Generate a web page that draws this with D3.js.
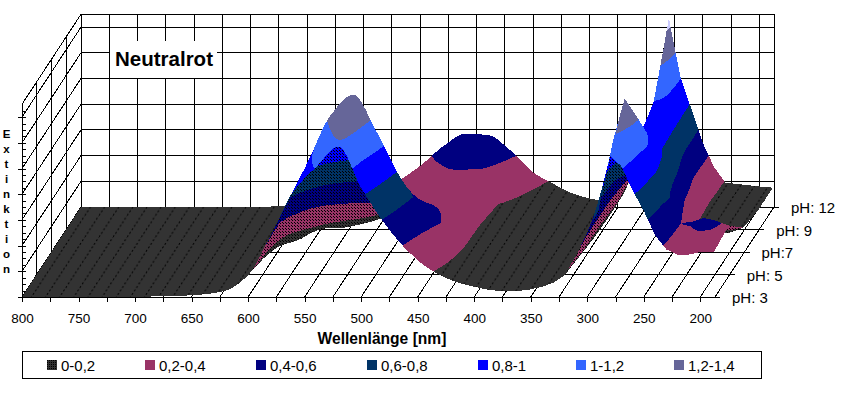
<!DOCTYPE html>
<html>
<head>
<meta charset="utf-8">
<script src="https://cdn.jsdelivr.net/npm/d3@7"></script>
<style>
  html, body { margin: 0; padding: 0; background: #fff; }
  svg { display: block; }
  text { font-family: "Liberation Sans", Arial, sans-serif; fill: #000; }
</style>
</head>
<body>
<svg id="chart" width="844" height="394"></svg>
<script>
// values
const wavelengths = [800, 720, 660, 640, 620, 600, 580, 560, 540, 520, 500, 480, 460, 440, 420, 400, 380, 360, 340, 330, 320, 310, 300, 290, 280, 270, 260, 250, 240, 230, 220, 210, 200, 188];
const phLabels = ["pH: 3", "pH: 5", "pH:7", "pH: 9", "pH: 12"];
const ph3 = [0, 0, 0.01, 0.02, 0.05, 0.17, 0.48, 0.82, 1.01, 1.17, 0.85, 0.58, 0.37, 0.22, 0.13, 0.08, 0.05, 0.05, 0.08, 0.11, 0.17, 0.32, 0.5, 0.68, 1.1, 1.02, 0.83, 0.67, 0.48, 0.37, 0.33, 0.33, 0.35, 0.35];
const ph5 = [0, 0, 0.01, 0.02, 0.03, 0.12, 0.52, 0.88, 1.24, 1.4, 1.12, 0.78, 0.52, 0.38, 0.18, 0.1, 0.07, 0.06, 0.06, 0.08, 0.14, 0.27, 0.62, 1.05, 1.37, 1.24, 1.0, 0.75, 0.6, 0.4, 0.41, 0.44, 0.42, 0.38];
const ph7 = [0, 0, 0.01, 0.02, 0.03, 0.05, 0.1, 0.22, 0.26, 0.3, 0.36, 0.39, 0.37, 0.33, 0.19, 0.12, 0.09, 0.05, 0.04, 0.06, 0.11, 0.3, 0.55, 0.6, 0.9, 0.88, 0.8, 0.68, 0.4, 0.19, 0.17, 0.15, 0.15, 0.19];
const ph9 = [0, 0, 0, 0, 0, 0, 0.01, 0.01, 0.04, 0.09, 0.17, 0.25, 0.3, 0.29, 0.21, 0.14, 0.08, 0.04, 0.03, 0.05, 0.1, 0.25, 0.45, 0.6, 1.0, 0.95, 0.78, 0.5, 0.28, 0.18, 0.17, 0.15, 0.15, 0.15];
const ph12 = [0, 0, 0, 0, 0.01, 0.01, 0.02, 0.05, 0.1, 0.2, 0.32, 0.47, 0.57, 0.56, 0.44, 0.27, 0.17, 0.09, 0.055, 0.06, 0.1, 0.3, 0.6, 0.9, 1.47, 1.02, 0.76, 0.5, 0.31, 0.19, 0.18, 0.17, 0.16, 0.15];
const surface = [ph3, ph5, ph7, ph9, ph12];

const bandBreaks = [0, 0.2, 0.4, 0.6, 0.8, 1, 1.2, 1.4, 1.7];
const bandColors = ["#333333", "#993366", "#000080", "#003366", "#0000ff", "#3366ff", "#666699", "#ccccff"];
const legendLabels = ["0-0,2", "0,2-0,4", "0,4-0,6", "0,6-0,8", "0,8-1", "1-1,2", "1,2-1,4"];
const legendX = [47, 145, 256, 367, 478, 576, 674];
const extTicks = [0, 0.2, 0.4, 0.6, 0.8, 1, 1.2, 1.4];
const yLetters = "Extinktion".split("");

const svg = d3.select("svg#chart");

// dark band has the dotted mesh texture of the original
const defs = svg.append("defs");
const darkFill = defs.append("pattern").attr("id", "darkFill")
  .attr("patternUnits", "userSpaceOnUse")
  .attr("width", 14.135).attr("height", 21.56);
darkFill.append("rect").attr("width", 14.135).attr("height", 21.56).attr("fill", "#333333");
darkFill.append("line")
  .attr("x1", 0).attr("y1", 21.56).attr("x2", 14.135).attr("y2", 0)
  .attr("stroke", "#000").attr("stroke-dasharray", "2 2.2");

const swatchFill = defs.append("pattern").attr("id", "swatchFill")
  .attr("patternUnits", "userSpaceOnUse").attr("width", 2).attr("height", 2);
swatchFill.append("rect").attr("width", 2).attr("height", 2).attr("fill", "#333333");
swatchFill.append("rect").attr("width", 1).attr("height", 1).attr("fill", "#000");

// underside of the surface: the mesh lines crowd together and read as dither
bandColors.forEach((c, i) => {
  const p = defs.append("pattern").attr("id", "under" + i)
    .attr("patternUnits", "userSpaceOnUse").attr("width", 3).attr("height", 3);
  p.append("rect").attr("width", 3).attr("height", 3).attr("fill", c);
  p.append("rect").attr("x", 0).attr("y", 0).attr("width", 1).attr("height", 1).attr("fill", "#000");
  p.append("rect").attr("x", 1).attr("y", 1).attr("width", 1).attr("height", 1).attr("fill", "#000");
});

// scales: wall + floor in an oblique projection
const waveEnd = 187;
const xScale = d3.scaleLinear().domain([800, waveEnd]).range([22, 715]);
const depthX = d3.scaleLinear().domain([0, 4]).range([0, 59]);
const depthY = d3.scaleLinear().domain([0, 4]).range([0, -90]);
const zScale = d3.scaleLinear().domain([0, 1.5]).range([297, 104.25]);

function project(w, d, z) {
  return [xScale(w) + depthX(d), zScale(z) + depthY(d)];
}

// ---- grid
const grid = svg.append("g").attr("stroke", "#000").attr("fill", "none").attr("shape-rendering", "crispEdges");
function gridLine(a, b) {
  grid.append("line").attr("x1", a[0]).attr("y1", a[1]).attr("x2", b[0]).attr("y2", b[1]);
}

const gridWaves = d3.range(800, waveEnd, -25);
gridWaves.concat([waveEnd]).forEach(w => {
  gridLine(project(w, 4, 0), project(w, 4, 1.5));
  if (w != waveEnd) gridLine(project(w, 0, 0), project(w, 4, 0));
});
extTicks.concat([1.5]).forEach(z => {
  gridLine(project(800, 4, z), project(waveEnd, 4, z));
  gridLine(project(800, 0, z), project(800, 4, z));
});
d3.range(0, 5).forEach(d => {
  gridLine(project(800, d, 0), project(800, d, 1.5));
  gridLine(project(800, d, 0), project(waveEnd, d, 0));
  // tick out to the pH label
  gridLine(project(waveEnd, d, 0), [project(waveEnd, d, 0)[0] + 5, project(waveEnd, d, 0)[1]]);
});
gridLine(project(waveEnd, 0, 0), project(waveEnd, 4, 0));

// ---- surface
function tangents(xs, ys) {
  const n = xs.length, m = [], t = [];
  for (let i = 0; i < n - 1; i++) m.push((ys[i + 1] - ys[i]) / (xs[i + 1] - xs[i]));
  t.push(m[0]);
  for (let i = 1; i < n - 1; i++) {
    t.push(m[i - 1] * m[i] <= 0 ? 0 : 2 * m[i - 1] * m[i] / (m[i - 1] + m[i]));
  }
  t.push(m[n - 2]);
  return t;
}
const rowTangents = surface.map(row => tangents(wavelengths, row));

// value along one pH row; smooth where the original is smooth, straight facets in the UV
function rowValue(r, w) {
  const row = surface[r];
  let i = 0;
  while (i < wavelengths.length - 2 && w < wavelengths[i + 1]) i++;
  const x0 = wavelengths[i], x1 = wavelengths[i + 1], h = x1 - x0;
  const u = (w - x0) / h;
  if (w < 340) return row[i] + (row[i + 1] - row[i]) * u;
  const t = rowTangents[r];
  const h00 = 2 * u * u * u - 3 * u * u + 1, h10 = u * u * u - 2 * u * u + u;
  const h01 = -2 * u * u * u + 3 * u * u, h11 = u * u * u - u * u;
  return h00 * row[i] + h10 * h * t[i] + h01 * row[i + 1] + h11 * h * t[i + 1];
}

function clip(poly, level, keepAbove) {
  const out = [];
  for (let i = 0; i < poly.length; i++) {
    const a = poly[i], b = poly[(i + 1) % poly.length];
    const ina = keepAbove ? a.z >= level : a.z <= level;
    const inb = keepAbove ? b.z >= level : b.z <= level;
    if (ina) out.push(a);
    if (ina != inb) {
      const u = (level - a.z) / (b.z - a.z);
      out.push({ x: a.x + (b.x - a.x) * u, y: a.y + (b.y - a.y) * u, z: level });
    }
  }
  return out;
}

function signedArea(p) {
  let area = 0;
  p.forEach((a, i) => { const b = p[(i + 1) % p.length]; area += a.x * b.y - b.x * a.y; });
  return area;
}

function polyPath(p) {
  const q = signedArea(p) < 0 ? p.slice().reverse() : p;
  return "M" + q.map(a => a.x.toFixed(1) + "," + a.y.toFixed(1)).join("L") + "Z";
}

// back to front: far pH strips first, in each strip right to left
const subStrips = 16, waveStep = 2;
const fineWaves = d3.range(waveEnd + 1, 800, waveStep).concat([800]);
const fineRows = surface.map((row, r) => fineWaves.map(w => Math.max(0, rowValue(r, w))));
const runs = [];
for (let s = 4 * subStrips - 1; s >= 0; s--) {
  const d0 = s / subStrips, d1 = (s + 1) / subStrips;
  const r = Math.min(3, Math.floor(d0));
  const f0 = d0 - r, f1 = d1 - r;
  for (let k = 0; k < fineWaves.length - 1; k++) {
    const w0 = fineWaves[k], w1 = fineWaves[k + 1];
    const zAt = (c, f) => fineRows[r][c] + (fineRows[r + 1][c] - fineRows[r][c]) * f;
    const corners = [[w0, d0, zAt(k, f0)], [w1, d0, zAt(k + 1, f0)], [w1, d1, zAt(k + 1, f1)], [w0, d1, zAt(k, f1)]]
      .map(c => { const p = project(c[0], c[1], c[2]); return { x: p[0], y: p[1], z: c[2] }; });
    // the topside of the floor turns one way on screen, the underside the other
    const under = signedArea(corners) < 0;
    for (let b = 0; b < bandColors.length; b++) {
      const zs = corners.map(c => c.z);
      if (d3.max(zs) < bandBreaks[b] || d3.min(zs) > bandBreaks[b + 1]) continue;
      const part = clip(clip(corners, bandBreaks[b], true), bandBreaks[b + 1], false);
      if (part.length < 3) continue;
      const last = runs[runs.length - 1];
      if (last && last.band == b && last.under == under) last.d += polyPath(part);
      else runs.push({ band: b, under: under, d: polyPath(part) });
    }
  }
}
svg.append("g").attr("shape-rendering", "crispEdges")
  .selectAll("path").data(runs).join("path")
  .attr("d", d => d.d)
  .attr("fill", d => d.under ? "url(#under" + d.band + ")" : (d.band == 0 ? "url(#darkFill)" : bandColors[d.band]));

// ---- axes
const xAxis = svg.append("g")
  .attr("transform", "translate(0,297)")
  .attr("shape-rendering", "crispEdges")
  .call(d3.axisBottom(xScale)
    .tickValues(d3.range(800, waveEnd, -25))
    .tickFormat(d => d % 50 == 0 ? d : "")
    .tickSize(5).tickSizeOuter(0));
xAxis.selectAll("text").attr("y", 26).attr("dy", 0)
  .style("font-size", "13.5px").style("font-family", '"Liberation Sans", Arial, sans-serif');
xAxis.selectAll("line, path").attr("stroke", "#000");

const zAxisMinor = svg.append("g")
  .attr("transform", "translate(22,0)").attr("shape-rendering", "crispEdges")
  .call(d3.axisRight(zScale).tickValues(d3.range(0, 1.5, 0.05)).tickSize(4).tickFormat("").tickSizeOuter(0));
const zAxisMajor = svg.append("g")
  .attr("transform", "translate(22,0)").attr("shape-rendering", "crispEdges")
  .call(d3.axisLeft(zScale).tickValues(extTicks).tickSize(4).tickFormat("").tickSizeOuter(0));
zAxisMinor.selectAll("line, path").attr("stroke", "#000");
zAxisMajor.selectAll("line, path").attr("stroke", "#000");

// pH labels
svg.append("g").selectAll("text").data(phLabels).join("text")
  .attr("x", (d, i) => project(waveEnd, i, 0)[0] + 17)
  .attr("y", (d, i) => project(waveEnd, i, 0)[1] + 6)
  .style("font-size", "15px")
  .text(d => d);

// stacked y title
svg.append("g").selectAll("text").data(yLetters).join("text")
  .attr("x", 6.5)
  .attr("y", (d, i) => 137.5 + i * 15.1)
  .attr("text-anchor", "middle")
  .style("font-size", "11.5px").style("font-weight", "bold")
  .text(d => d);

// x title
svg.append("text")
  .attr("x", 382).attr("y", 344)
  .attr("text-anchor", "middle")
  .style("font-size", "15.6px").style("font-weight", "bold")
  .text("Wellenlänge [nm]");

// chart title on its white box
svg.append("rect").attr("x", 110).attr("y", 41).attr("width", 107).attr("height", 37).attr("fill", "#fff");
svg.append("text")
  .attr("x", 115).attr("y", 66)
  .style("font-size", "20.5px").style("font-weight", "bold")
  .text("Neutralrot");

// ---- legend
svg.append("rect")
  .attr("x", 22.5).attr("y", 351.5).attr("width", 739).attr("height", 27)
  .attr("fill", "#fff").attr("stroke", "#000")
  .attr("shape-rendering", "crispEdges");
const legend = svg.append("g").selectAll("g").data(legendLabels).join("g")
  .attr("transform", (d, i) => "translate(" + legendX[i] + ",360)");
legend.append("rect")
  .attr("width", 10).attr("height", 10)
  .attr("fill", (d, i) => i == 0 ? "url(#swatchFill)" : bandColors[i]);
legend.append("text")
  .attr("x", 14).attr("y", 10.5)
  .style("font-size", "15px")
  .text(d => d);
</script>
</body>
</html>
